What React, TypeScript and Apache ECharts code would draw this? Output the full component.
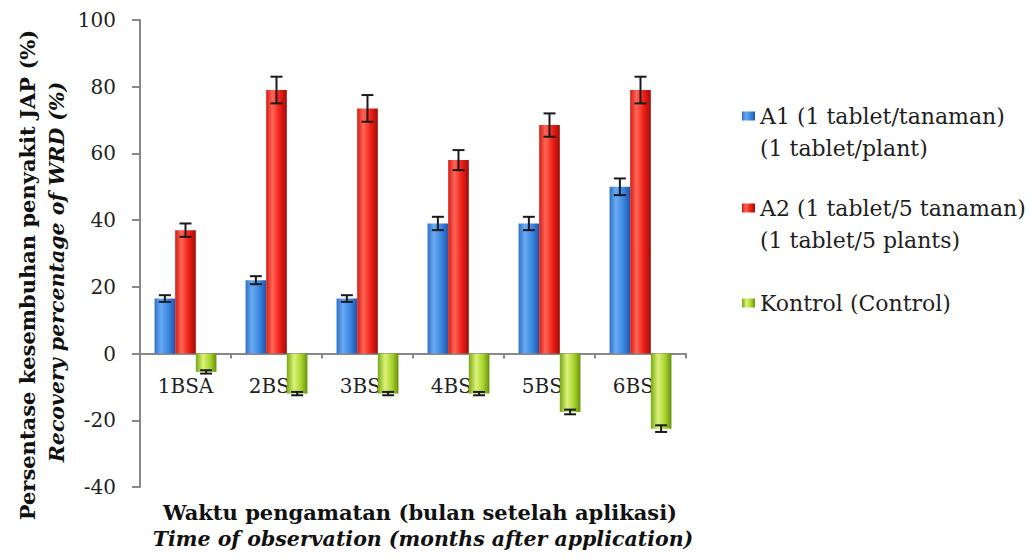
import React, { useEffect, useRef } from "react";
import * as echarts from "echarts";

const categories = ["1BSA", "2BSA", "3BSA", "4BSA", "5BSA", "6BSA"];
const seriesNames = ["A1 (1 tablet/tanaman)", "A2 (1 tablet/5 tanaman)", "Kontrol (Control)"];
const seriesSubNames = ["(1 tablet/plant)", "(1 tablet/5 plants)", ""];
const a1Values = [16.5, 22, 16.5, 39, 39, 50];
const a1Errors = [1, 1.2, 1, 2, 2, 2.5];
const a2Values = [37, 79, 73.5, 58, 68.5, 79];
const a2Errors = [2, 4, 4, 3, 3.5, 4];
const kontrolValues = [-5.5, -12, -12, -12, -17.5, -22.5];
const kontrolErrors = [0.5, 0.5, 0.5, 0.5, 0.7, 1];
const yMin = -40;
const yMax = 100;
const yInterval = 20;
const yTitle = ["Persentase kesembuhan penyakit JAP (%)", "Recovery percentage of WRD (%)"];
const xTitle = ["Waktu pengamatan (bulan setelah aplikasi)", "Time of observation (months after application)"];

const FONT = "DejaVu Serif";
const CAT_GAP = 0.32;
const GRID_TOP = 20;
const GRID_BOTTOM = 72;
const CHART_H = 559;

const grad = (stops: [number, string][]) =>
  new echarts.graphic.LinearGradient(
    0, 0, 1, 0,
    stops.map(([offset, color]) => ({ offset, color }))
  );

const blueFill = () => grad([[0, "#2f6fc8"], [0.3, "#6aaaf2"], [0.65, "#3c88e2"], [1, "#1f56aa"]]);
const redFill = () => grad([[0, "#d41a14"], [0.3, "#ff6656"], [0.65, "#f02018"], [1, "#a00c08"]]);
const greenFill = () => grad([[0, "#78a814"], [0.35, "#dcf27a"], [0.7, "#a6d42a"], [1, "#678f0e"]]);

const valueSets = [a1Values, a2Values, kontrolValues];
const errorSets = [a1Errors, a2Errors, kontrolErrors];
const fills = [blueFill, redFill, greenFill];

export default function App() {
  const ref = useRef<HTMLDivElement>(null);
  useEffect(() => {
    if (!ref.current) return;
    const chart = echarts.init(ref.current, null, { renderer: "svg" });

    // offset of the zero line above the grid bottom, derived from the axis range
    const plotH = CHART_H - GRID_TOP - GRID_BOTTOM;
    const zeroOffset = (plotH * (0 - yMin)) / (yMax - yMin);

    const barSeries = seriesNames.map((name, i) => ({
      name,
      type: "bar",
      data: valueSets[i],
      barGap: "0%",
      barCategoryGap: `${CAT_GAP * 100}%`,
      itemStyle: { color: fills[i]() },
      z: 2,
    }));

    const errSeries = seriesNames.map((name, i) => ({
      name: "err" + i,
      type: "custom",
      z: 5,
      data: valueSets[i].map((v, k) => [k, v, errorSets[i][k]]),
      encode: { x: 0, y: 1 },
      renderItem: (params: any, api: any) => {
        const idx = api.value(0);
        const val = api.value(1);
        const err = api.value(2);
        const catW = api.size([1, 0])[0];
        const barW = (catW * (1 - CAT_GAP)) / 3;
        const off = (i - 1) * barW;
        const top = api.coord([idx, val + err]);
        const bot = api.coord([idx, val - err]);
        const x = top[0] + off;
        const hw = 6;
        const st = { stroke: "#1a1a1a", lineWidth: 2 };
        return {
          type: "group",
          children: [
            { type: "line", shape: { x1: x, y1: top[1], x2: x, y2: bot[1] }, style: st },
            { type: "line", shape: { x1: x - hw, y1: top[1], x2: x + hw, y2: top[1] }, style: st },
            { type: "line", shape: { x1: x - hw, y1: bot[1], x2: x + hw, y2: bot[1] }, style: st },
          ],
        };
      },
    }));

    const legendTops = [100, 192, 287];
    const legends = seriesNames.map((n, i) => ({
      data: [n],
      orient: "vertical",
      left: 742,
      top: legendTops[i],
      padding: 0,
      itemWidth: 13,
      itemHeight: 9,
      icon: "rect",
      selectedMode: false,
      textStyle: { fontFamily: FONT, fontSize: 22, color: "#1e1e1e", lineHeight: 32 },
    }));

    const subTexts = seriesSubNames
      .map((t, i) => ({ t, i }))
      .filter((o) => o.t)
      .map((o) => ({
        type: "text",
        left: 760,
        top: legendTops[o.i] + 32,
        style: { text: o.t, font: `22px '${FONT}'`, fill: "#1e1e1e", lineHeight: 32 },
      }));

    chart.setOption({
      animation: false,
      backgroundColor: "#ffffff",
      grid: { left: 140, top: GRID_TOP, right: 345, bottom: GRID_BOTTOM },
      legend: legends,
      xAxis: {
        type: "category",
        data: categories,
        offset: -zeroOffset,
        axisLine: { onZero: false, lineStyle: { color: "#888", width: 2 } },
        axisTick: { show: true, length: 5, lineStyle: { color: "#888", width: 2 } },
        axisLabel: { fontFamily: FONT, fontSize: 20, color: "#222", margin: 22 },
      },
      yAxis: {
        type: "value",
        min: yMin,
        max: yMax,
        interval: yInterval,
        splitLine: { show: false },
        axisLine: { show: true, lineStyle: { color: "#888", width: 2 } },
        axisTick: { show: true, length: 8, lineStyle: { color: "#888", width: 2 } },
        axisLabel: { fontFamily: FONT, fontSize: 20, color: "#222", margin: 24 },
      },
      graphic: [
        {
          type: "text",
          x: 27,
          y: 275,
          rotation: Math.PI / 2,
          style: {
            text: yTitle[0],
            font: `bold 21px '${FONT}'`,
            fill: "#111",
            textAlign: "center",
            textVerticalAlign: "middle",
          },
        },
        {
          type: "text",
          x: 57,
          y: 272,
          rotation: Math.PI / 2,
          style: {
            text: yTitle[1],
            font: `italic bold 20.5px '${FONT}'`,
            fill: "#111",
            textAlign: "center",
            textVerticalAlign: "middle",
          },
        },
        {
          type: "text",
          x: 420,
          y: 512,
          style: {
            text: xTitle[0],
            font: `bold 21px '${FONT}'`,
            fill: "#111",
            textAlign: "center",
            textVerticalAlign: "middle",
          },
        },
        {
          type: "text",
          x: 423,
          y: 539,
          style: {
            text: xTitle[1],
            font: `italic bold 20.5px '${FONT}'`,
            fill: "#111",
            textAlign: "center",
            textVerticalAlign: "middle",
          },
        },
        ...subTexts,
      ],
      series: [...barSeries, ...errSeries],
    });

    return () => chart.dispose();
  }, []);

  return (
    <div
      ref={ref}
      style={{ position: "absolute", left: 0, top: 0, width: 1031, height: 559, background: "#fff" }}
    />
  );
}
